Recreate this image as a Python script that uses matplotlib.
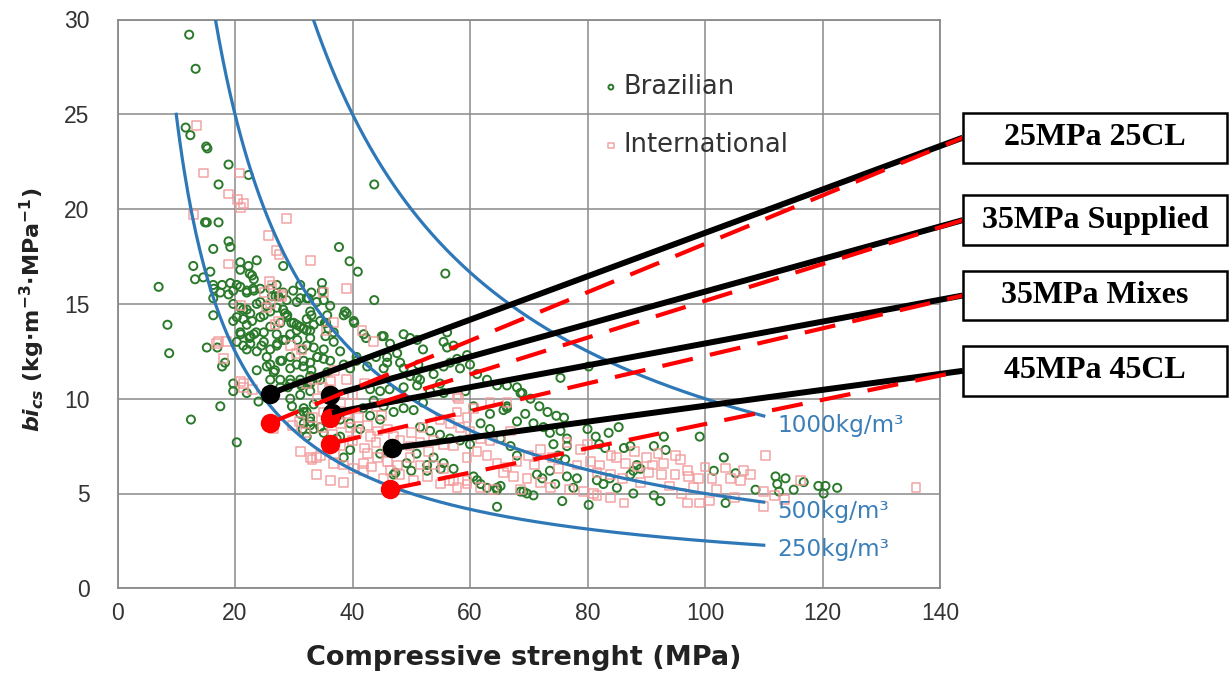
import numpy as np
import matplotlib
matplotlib.use("Agg")
import matplotlib.pyplot as plt
from matplotlib.patches import Rectangle, ConnectionPatch

# ---------------- data ----------------
brazilian = [
    (12.2,29.2),(13.3,27.4),(11.6,24.3),(12.4,23.9),(15.1,23.3),(15.3,23.2),(18.9,22.35),(22.3,21.8),(17.2,21.3),(43.7,21.3),
    (14.9,19.3),(15.2,19.3),(17.2,19.3),(16.3,17.9),(18.9,18.3),(19.2,18.0),(37.7,18.0),(39.5,17.25),(40.9,16.7),(20.9,17.2),
    (22.3,17.0),(23.7,17.3),(20.9,16.8),(22.5,16.6),(12.9,17.0),(15.8,16.7),(13.2,16.3),(14.6,16.4),(22.9,16.5),(23.2,16.3),
    (28.2,17.0),(7.0,15.9),(16.4,15.8),(17.8,16.0),(19.2,16.1),(19.7,15.7),(20.9,15.9),(22.0,15.7),(23.1,15.8),(26.9,15.4),
    (31.1,15.3),(32.5,15.3),(34.9,15.7),(43.7,15.2),(16.3,15.3),(19.7,15.0),(20.9,14.8),(22.0,14.7),(24.3,15.1),(25.4,14.9),
    (16.3,14.4),(8.5,13.9),(28.2,14.7),(28.9,14.4),(32.8,14.6),(33.0,14.4),(38.5,14.4),(38.7,14.6),(40.3,14.0),(35.3,14.0),
    (8.8,12.4),(12.5,8.9),(17.5,9.6),(20.3,7.7),(15.2,12.7),(17.0,12.7),(17.8,11.7),(18.3,11.9),(19.7,10.8),(19.7,10.4),
    (22.0,10.3),(24.0,9.85),(20.3,13.0),(21.0,13.4),(21.4,12.8),(22.6,13.3),(22.0,12.6),(19.7,14.1),(21.4,14.2),(22.9,14.1),
    (24.3,14.3),(22.5,13.2),(23.6,13.5),(24.5,12.8),(26.3,15.4),(27.4,15.4),(28.5,14.5),(29.6,14.0),(30.5,13.6),(25.4,12.2),
    (26.0,11.8),(26.8,11.5),(28.0,12.0),(29.4,12.2),(27.2,12.9),(28.6,13.1),(30.6,13.1),(32.2,12.8),(32.2,13.6),(32.8,13.2),
    (31.5,12.6),(33.4,12.7),(34.0,12.2),(35.1,12.6),(29.4,11.0),(31.1,10.8),(32.8,10.8),(29.0,10.6),(35.5,14.0),(35.9,13.7),
    (34.8,15.7),(39.0,14.5),(40.2,14.1),(41.9,13.4),(45.0,13.3),(46.4,12.9),(48.7,13.4),(51.0,13.1),(55.5,13.0),(56.1,13.5),
    (56.1,12.7),(57.2,12.8),(55.8,16.6),(40.7,12.0),(42.5,11.7),(45.9,12.2),(45.3,11.6),(48.7,11.6),(51.0,11.1),(48.7,10.6),
    (51.0,10.7),(53.2,10.4),(54.9,10.8),(55.5,10.3),(58.3,11.6),(60.0,11.8),(59.2,10.4),(60.6,9.6),(63.4,9.2),(65.7,9.4),
    (68.6,10.3),(66.3,10.7),(29.7,9.6),(31.7,9.3),(32.8,8.8),(33.4,8.4),(32.2,8.0),(37.9,8.0),(39.6,7.3),(38.5,6.9),
    (47.3,6.1),(50.0,6.2),(52.7,6.5),(55.0,6.3),(61.2,5.7),(64.6,5.3),(69.1,5.1),(64.6,4.3),
    (16.3,16.0),(17.5,15.6),(18.9,15.5),(20.3,16.0),(22.0,15.6),(23.2,15.7),(24.3,15.8),(20.3,14.3),(21.4,14.7),(22.6,14.5),
    (23.7,15.0),(24.9,14.4),(26.0,14.6),(27.1,14.8),(20.9,13.5),(22.0,13.9),(23.2,13.4),(24.9,13.5),(26.0,13.8),(27.1,13.4),
    (22.6,12.9),(23.7,12.5),(24.9,13.0),(26.0,12.6),(27.1,12.8),(28.2,13.1),(29.4,13.4),(30.5,13.9),(31.7,13.7),(32.8,13.6),
    (23.7,11.5),(25.4,11.7),(26.6,11.4),(27.7,12.0),(29.4,11.6),(30.5,11.8),(31.7,12.0),(32.8,11.9),(34.0,12.2),(35.1,12.1),
    (26.0,11.0),(27.7,11.0),(29.4,10.8),(31.1,11.0),(32.8,11.2),(34.5,11.0),(35.7,11.4),(27.7,14.0),(28.8,14.3),(30.0,14.0),
    (31.1,13.8),(32.2,14.2),(33.4,13.9),(34.5,14.1),(35.7,14.4),(36.8,13.5),(28.8,15.2),(30.5,15.1),(32.2,15.3),(33.9,15.1),
    (35.1,15.2),(36.2,14.9),(26.0,15.8),(27.1,16.0),(28.2,15.6),(29.9,15.7),(31.1,16.0),(33.0,15.6),(34.8,16.1),(27.7,10.6),
    (29.4,10.0),(31.1,10.2),(32.8,10.4),(33.4,9.7),(31.7,9.5),(32.8,9.0),(31.7,8.7),
    (35.4,13.3),(36.8,13.0),(36.2,12.0),(37.9,12.5),(38.5,11.8),(39.6,11.6),(40.7,12.2),(42.3,13.2),(44.0,12.2),(45.3,13.3),
    (45.9,11.9),(47.6,12.4),(48.1,11.9),(49.8,13.2),(51.2,11.8),(52.0,12.6),(31.1,9.2),(32.2,9.3),(32.8,8.6),(31.5,8.4),
    (34.5,8.5),(37.9,8.9),(39.6,8.7),(41.3,8.4),(43.0,9.1),(44.7,8.9),(41.8,9.5),(43.6,9.9),(45.3,9.6),(47.0,9.3),
    (48.7,9.5),(50.4,9.4),(52.0,9.8),(51.5,8.5),(53.2,8.3),(54.9,8.1),(56.6,7.9),(58.3,7.8),(60.0,7.6),(49.8,11.2),
    (51.5,11.0),(53.8,11.3),(55.5,11.7),(56.6,11.9),(57.8,12.1),(59.5,12.3),(61.2,11.3),(62.9,11.0),(64.6,10.7),(66.3,9.6),
    (68.0,10.6),(61.8,8.7),(63.4,8.4),(65.2,7.9),(66.9,7.5),(68.0,7.0),(60.6,5.9),(61.8,5.5),(62.9,5.3),(64.6,5.2),
    (53.8,6.9),(55.5,6.6),(57.2,6.3),(44.7,7.1),(47.0,6.0),(49.2,6.6),(50.9,7.1),(52.7,6.2),(36.2,7.7),(37.3,7.9),
    (35.1,8.2),(31.6,11.7),(33.0,11.5),(34.0,11.1),(32.8,10.9),(31.3,10.7),(43.0,10.5),(44.7,10.4),(46.3,10.5),
    (75.4,11.1),(80.2,11.7),(68.9,10.3),(70.3,10.0),(71.8,9.6),(73.2,9.3),(74.7,9.1),(76.0,9.0),(66.3,9.5),(68.0,8.8),
    (69.4,9.2),(70.8,8.7),(72.5,8.5),(73.6,8.2),(75.4,8.3),(76.5,7.9),(74.2,7.6),(76.5,7.5),(80.0,8.4),(81.4,8.0),
    (82.0,7.6),(83.6,8.2),(85.3,8.5),(83.0,7.4),(86.2,7.4),(87.3,7.5),(91.3,7.5),(93.0,8.0),(93.3,7.3),(99.1,8.0),
    (101.5,6.2),(88.4,6.5),(89.0,6.3),(87.8,6.2),(87.3,6.0),(81.6,5.7),(82.7,5.5),(83.8,5.8),(85.0,5.3),(87.8,5.0),
    (91.3,4.9),(92.4,4.6),(75.7,4.6),(80.2,4.4),(68.6,5.1),(69.7,5.0),(70.8,4.9),(71.4,6.0),(72.3,5.8),(73.6,6.2),
    (74.5,5.5),(76.5,5.9),(78.2,5.8),(77.6,5.3),(65.2,5.4),(75.0,7.0),(76.2,6.8),
    (103.2,6.9),(105.2,6.07),(103.5,4.5),(108.6,5.2),(112.0,5.9),(113.7,5.8),(112.3,5.5),(112.6,5.1),(115.1,5.2),(116.8,5.6),
    (119.3,5.4),(120.5,5.4),(122.5,5.3),(120.2,5.0),
]

international = [
    (13.4,24.4),(14.6,21.9),(20.8,21.9),(18.9,20.8),(20.4,20.5),(20.9,20.1),(21.4,20.3),(13.0,19.7),(28.7,19.5),(25.7,18.6),
    (27.0,17.8),(27.5,17.6),(32.8,17.3),(18.9,17.1),(25.9,16.2),(39.0,15.8),(28.0,15.4),(20.9,14.9),(25.4,14.8),(26.0,15.0),
    (35.0,15.6),(41.6,13.6),(43.6,13.0),(17.2,13.0),(18.0,12.1),(21.4,10.8),(23.0,10.5),(25.5,10.3),(26.5,8.4),(29.8,8.6),
    (31.0,8.8),(33.2,9.0),(33.1,6.8),(33.9,6.9),(43.3,6.4),(57.8,5.3),(56.5,5.7),(59.5,5.7),(58.0,10.0),(59.5,9.0),
    (26.8,13.9),(27.4,14.1),(29.5,12.8),(30.4,12.4),(31.3,12.6),(32.2,10.8),(33.4,11.0),(34.9,10.6),(36.2,10.9),(16.9,12.9),
    (18.6,13.0),(20.9,10.9),(21.4,10.6),(25.0,15.6),(26.3,16.0),(28.0,15.5),(35.5,13.6),(36.8,14.0),
    (37.9,8.7),(39.6,8.5),(40.7,8.2),(42.5,8.6),(44.2,8.3),(45.9,8.4),(32.8,6.9),(34.5,7.0),(36.8,6.6),(38.5,6.5),
    (40.2,6.3),(41.9,6.6),(42.5,7.1),(44.2,6.9),(45.9,6.7),(47.6,6.5),(49.8,6.9),(51.5,6.5),(53.8,6.5),(55.5,6.3),
    (48.1,7.8),(49.8,7.5),(51.5,7.7),(53.8,7.8),(55.5,7.6),(57.2,7.5),(48.1,6.0),(50.4,5.7),(52.7,5.9),(55.0,5.5),
    (57.2,5.7),(59.5,5.5),(61.8,5.3),(64.0,5.2),(57.8,10.1),(60.6,9.5),(63.4,9.8),(66.3,9.8),(57.8,9.3),(54.9,8.9),
    (56.6,8.7),(58.3,8.5),(60.0,8.3),(61.8,7.9),(63.4,7.8),(65.2,7.9),(66.9,8.3),(59.5,6.9),(61.2,7.2),(62.9,7.0),
    (64.6,6.6),(66.3,6.4),(33.9,6.0),(36.2,5.7),(38.5,5.6),(41.9,6.2),(45.3,5.8),(31.2,7.2),(32.0,8.2),(34.9,8.5),
    (36.6,8.1),(38.0,7.5),(40.0,7.8),(42.0,7.4),(44.0,7.7),(46.0,7.2),(47.0,8.0),(39.0,9.2),(41.0,9.0),(43.0,8.0),
    (45.0,9.1),(35.0,9.3),(37.0,7.1),(50.0,8.2),(52.0,8.5),(53.0,7.2),(46.5,6.2),
    (85.0,6.9),(86.5,6.6),(88.5,6.4),(90.4,6.1),(92.6,6.0),(94.9,6.0),(97.2,5.9),(98.9,5.8),(101.2,5.8),(81.6,4.9),
    (83.9,4.8),(86.2,4.5),(97.0,4.5),(99.0,4.5),(100.7,4.6),(95.8,6.8),(97.0,6.2),(76.5,7.7),(78.8,7.3),(78.2,6.5),
    (80.5,6.7),(81.6,6.1),(83.9,6.0),(65.7,6.1),(67.4,5.9),(69.7,5.8),(72.0,5.6),(73.7,5.3),(68.6,5.2),(77.0,5.2),
    (79.3,5.1),(81.0,5.0),(70.0,7.0),(72.0,7.3),(74.0,6.9),(71.0,6.5),(75.0,6.3),(68.0,6.7),(80.0,7.6),(88.0,7.2),
    (90.0,6.9),(92.0,7.1),(82.0,6.5),(84.0,7.0),(86.0,5.8),(89.0,5.6),(91.0,6.5),(94.0,5.4),(96.0,5.0),(98.0,5.3),
    (100.0,6.4),(102.0,5.2),(93.0,6.6),(95.0,7.0),
    (110.3,7.0),(103.5,6.35),(104.4,5.8),(106.1,5.7),(107.7,6.0),(106.5,6.2),(105.0,4.8),(111.8,4.9),(113.5,4.7),(110.0,4.3),
    (116.3,5.7),(135.9,5.33),(110.0,5.1),
    (34.0,10.0),(36.0,10.5),(38.0,9.8),(40.0,10.2),(37.0,11.5),(39.0,11.0),(42.0,10.8),(44.0,9.6),
]

consumption = [250, 500, 1000]           # kg/m3 iso-lines: bi = C / fc
curve_labels = ["250kg/m\u00b3", "500kg/m\u00b3", "1000kg/m\u00b3"]

mix_labels = ["25MPa 25CL", "35MPa Supplied", "35MPa Mixes", "45MPa 45CL"]
mix_fc_black = [25.9, 36.2, 36.5, 46.7]
mix_bi_black = [10.26, 10.17, 9.25, 7.39]
mix_fc_red = [25.9, 36.2, 36.2, 46.4]
mix_bi_red = [8.71, 8.97, 7.62, 5.23]

x_ticks = [0, 20, 40, 60, 80, 100, 120, 140]
y_ticks = [0, 5, 10, 15, 20, 25, 30]

# ---------------- style ----------------
plt.rcParams['font.family'] = ['DejaVu Sans']
plt.rcParams['mathtext.fontset'] = 'custom'
plt.rcParams['mathtext.rm'] = 'DejaVu Sans:bold'
plt.rcParams['mathtext.it'] = 'DejaVu Sans:italic:bold'
plt.rcParams['mathtext.bf'] = 'DejaVu Sans:bold'

W, H = 1229, 675
fig = plt.figure(figsize=(W / 100, H / 100), dpi=100)
L, R, T, B = 117.5, 940.0, 19.5, 588.3
ax = fig.add_axes([L / W, 1 - B / H, (R - L) / W, (B - T) / H])

grid_c = '#8a8a8a'
ax.set_xlim(0, 140)
ax.set_ylim(0, 30)
ax.set_xticks(x_ticks)
ax.set_yticks(y_ticks)
ax.grid(True, color=grid_c, lw=1.1, zorder=0)
ax.set_axisbelow(True)
for s in ax.spines.values():
    s.set_color(grid_c)
    s.set_linewidth(1.3)
ax.tick_params(length=0, labelsize=16.5, labelcolor='#333333')
ax.tick_params(axis='y', pad=20)
ax.tick_params(axis='x', pad=10)
for lab in ax.get_xticklabels() + ax.get_yticklabels():
    lab.set_fontfamily('Liberation Sans')

# scatter
bx = [p[0] for p in brazilian]; by = [p[1] for p in brazilian]
ix = [p[0] for p in international]; iy = [p[1] for p in international]
hb = ax.scatter(bx, by, s=34, marker='o', facecolors='none', edgecolors='#2b7a2b',
                linewidths=1.4, zorder=3, label='Brazilian')
hi = ax.scatter(ix, iy, s=40, marker='s', facecolors='none', edgecolors='#f29a9a',
                linewidths=1.1, zorder=3, alpha=0.9, label='International')

# iso-consumption curves
curve_c = '#2e78b8'
label_dy = [-0.2, -0.52, -0.5]
for C, lab, dy in zip(consumption, curve_labels, label_dy):
    xs = np.linspace(max(10, C / 30), 110, 300)
    ax.plot(xs, C / xs, color=curve_c, lw=2.3, zorder=4)
    ax.text(112.3, C / 110 + dy, lab, color='#3b7fb9', fontsize=16.7,
            va='center', ha='left', zorder=5)

leg = ax.legend(handles=[hb, hi], loc='upper left', bbox_to_anchor=(0.578, 0.927),
                frameon=False, fontsize=18.5, labelspacing=1.25, handlelength=0.4,
                handletextpad=0.3, markerscale=0.6, borderpad=0)
for t in leg.get_texts():
    t.set_color('#333333')

ax.set_xlabel('Compressive strenght (MPa)', fontsize=19.5, fontweight='bold', color='#222222')
ax.xaxis.set_label_coords(0.494, -0.1)
ax.set_ylabel(r'$\mathit{bi}_{\mathit{cs}}$ (kg$\cdot$m$^{-3}$$\cdot$MPa$^{-1}$)', fontsize=16,
              fontweight='bold', color='#222222')
ax.yaxis.set_label_coords(-0.086, 0.49)

# annotation boxes
box_left = 962.7
box_right = 1227.0
box_tops = [112.7, 195.3, 271.0, 346.0]
box_bots = [162.7, 245.0, 320.0, 395.7]
for i, lab in enumerate(mix_labels):
    yb = 1 - box_bots[i] / H
    hgt = (box_bots[i] - box_tops[i]) / H
    rect = Rectangle((box_left / W, yb), (box_right - box_left) / W, hgt,
                     transform=fig.transFigure, facecolor='white', edgecolor='black',
                     lw=1.8, zorder=20)
    fig.add_artist(rect)
    fig.text((box_left + box_right) / 2 / W, yb + hgt / 2, lab, ha='center', va='center',
             family='Liberation Serif', fontweight='bold', fontsize=23, zorder=21)
    ycen = yb + hgt / 2
    cb = ConnectionPatch(xyA=(mix_fc_black[i], mix_bi_black[i]), coordsA=ax.transData,
                         xyB=(box_left / W, ycen), coordsB=fig.transFigure,
                         color='black', lw=4.3, zorder=10, capstyle='butt')
    fig.add_artist(cb)
for i in range(4):
    yb = 1 - box_bots[i] / H
    hgt = (box_bots[i] - box_tops[i]) / H
    ycen = yb + hgt / 2
    cr = ConnectionPatch(xyA=(mix_fc_red[i], mix_bi_red[i]), coordsA=ax.transData,
                         xyB=(box_left / W, ycen), coordsB=fig.transFigure,
                         color='#ff0000', lw=3.0, zorder=11, linestyle=(0, (7.5, 4.2)),
                         capstyle='butt')
    fig.add_artist(cr)

ax.plot(mix_fc_black, mix_bi_black, 'o', color='black', ms=13, zorder=12, clip_on=False)
ax.plot(mix_fc_red, mix_bi_red, 'o', color='#ff0000', ms=13, zorder=13, clip_on=False)

fig.savefig('out.png', dpi=100)
